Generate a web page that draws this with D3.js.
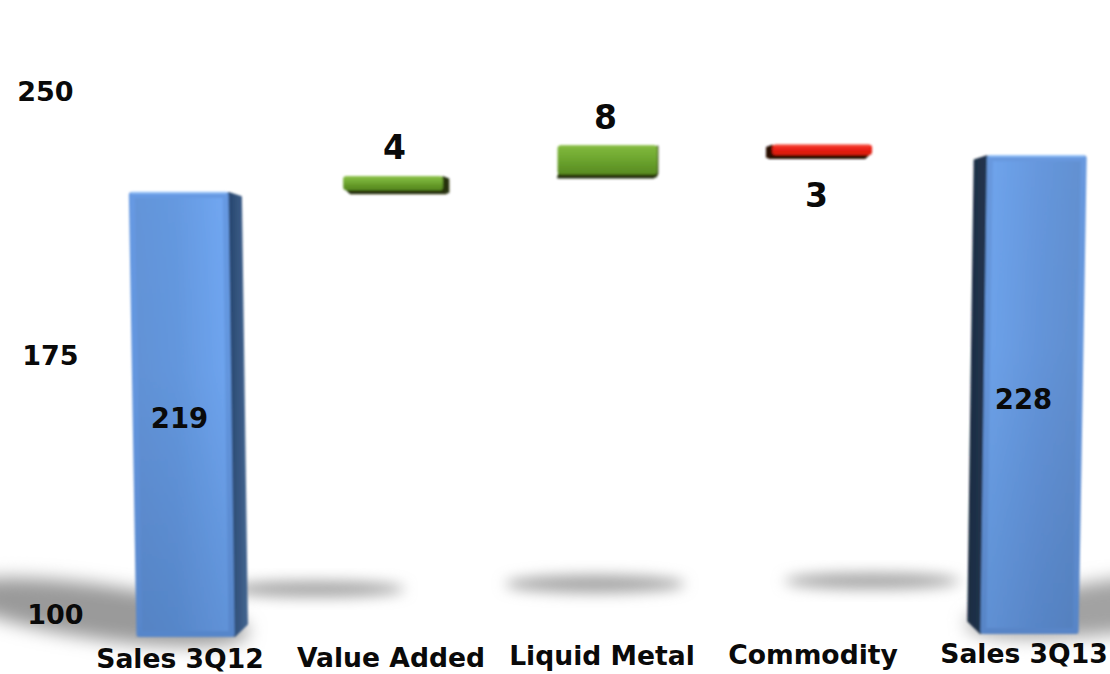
<!DOCTYPE html>
<html>
<head>
<meta charset="utf-8">
<script src="https://cdnjs.cloudflare.com/ajax/libs/d3/7.8.5/d3.min.js"></script>
<style>
html,body{margin:0;padding:0;background:#fff;overflow:hidden}
text{font-family:"DejaVu Sans",sans-serif;font-weight:700;fill:#0a0a0a}
</style>
</head>
<body>
<svg id="chart" width="1110" height="674"></svg>
<script>
// Sales bridge, 3Q12 to 3Q13
const categories = ["Sales 3Q12", "Value Added", "Liquid Metal", "Commodity", "Sales 3Q13"];
const values = [219, 4, 8, 3, 228];
const kinds = ["total", "up", "up", "down", "total"];
const axisTicks = [100, 175, 250];

const W = 1110, H = 674;
const floorY = 637, vanishX = 610, convergence = 3.6e-5, depthRatio = 0.033, corner = 3;

const svg = d3.select("#chart").attr("viewBox", [0, 0, W, H]);

const x = d3.scaleBand().domain(categories).range([80, 1135]).padding(0.535).paddingOuter(0.2675);
const barY = d3.scaleLinear().domain([100, 250]).range([floorY, floorY - 561]);
const axisY = d3.scaleLinear().domain([100, 175, 250]).range([614, 355, 91]);
const tilt = d3.scaleLinear().domain([184, 1028]).range([0, -3]);

// Camera perspective: vertical edges lean outward as they rise
const px = (xv, yv) => vanishX + (xv - vanishX) * (1 + convergence * (floorY - yv));

// Running totals give each bar its start and end value
let running = 0;
const bars = categories.map((name, i) => {
  let lo, hi;
  if (kinds[i] === "total") { lo = 100; hi = values[i]; running = values[i]; }
  else if (kinds[i] === "up") { lo = running; hi = running + values[i]; running = hi; }
  else { hi = running; lo = running - values[i]; running = lo; }
  return { name, value: values[i], kind: kinds[i], lo, hi, x0: x(name), x1: x(name) + x.bandwidth() };
});

const defs = svg.append("defs");
const blur = (id, s) => defs.append("filter").attr("id", id)
  .attr("x", "-40%").attr("y", "-80%").attr("width", "180%").attr("height", "260%")
  .append("feGaussianBlur").attr("stdDeviation", s);
blur("soft", 0.8);
blur("shadowBlur", 7);
blur("shadowBlurBig", 9);

function gradient(id, x2, y2, stops) {
  const g = defs.append("linearGradient").attr("id", id)
    .attr("x1", 0).attr("y1", 0).attr("x2", x2).attr("y2", y2);
  stops.forEach(([o, c, a]) => g.append("stop").attr("offset", o).attr("stop-color", c).attr("stop-opacity", a === undefined ? 1 : a));
}
gradient("blueLeft", 1, 0, [[0, "#6494d8"], [0.45, "#6599e0"], [1, "#72a9f4"]]);
gradient("blueRight", 1, 0, [[0, "#70a6ee"], [0.55, "#6697dd"], [1, "#6290d0"]]);
gradient("footShade", 0, 1, [[0, "#1c3a6a", 0], [0.4, "#1c3a6a", 0.03], [1, "#1c3a6a", 0.2]]);
gradient("sideLeft", 1, 0, [[0, "#27456e"], [1, "#42648f"]]);
gradient("sideRight", 1, 0, [[0, "#1d2c42"], [1, "#22354f"]]);
gradient("green", 0, 1, [[0, "#7db53b"], [0.5, "#6ca42e"], [1, "#5c8f24"]]);
gradient("red", 0, 1, [[0, "#f0261a"], [1, "#dd1a10"]]);

// Soft floor shadows cast by each bar
const shadowSpec = [
  { cx: 100, cy: 612, rx: 150, ry: 27, rot: 8, fill: "#9a9a9a", f: "shadowBlurBig" },
  { cx: 315, cy: 589, rx: 90, ry: 8, rot: 0, fill: "#a4a4a4", f: "shadowBlur" },
  { cx: 595, cy: 584, rx: 90, ry: 9, rot: 0, fill: "#a4a4a4", f: "shadowBlur" },
  { cx: 872, cy: 581, rx: 88, ry: 8, rot: 0, fill: "#a4a4a4", f: "shadowBlur" },
  { cx: 1135, cy: 604, rx: 170, ry: 27, rot: -7, fill: "#a2a2a2", f: "shadowBlurBig" }
];
svg.append("g").selectAll("ellipse").data(shadowSpec).join("ellipse")
  .attr("cx", d => d.cx).attr("cy", d => d.cy).attr("rx", d => d.rx).attr("ry", d => d.ry)
  .attr("transform", d => `rotate(${d.rot} ${d.cx} ${d.cy})`)
  .attr("fill", d => d.fill).attr("filter", d => `url(#${d.f})`);

const poly = pts => pts.map(p => p.join(",")).join(" ");

// Bars: underside and inner side first, the front face on top
const barG = svg.append("g").attr("filter", "url(#soft)");
bars.forEach(b => {
  const cx = (b.x0 + b.x1) / 2;
  const off = tilt(cx);
  const total = b.kind === "total";
  const yTop = barY(b.hi) + off;
  const yBot = barY(b.lo) + off - (total ? 0 : 1);
  const fl = px(b.x0, yTop), fr = px(b.x1, yTop), bl = px(b.x0, yBot), br = px(b.x1, yBot);
  const leftSide = cx > vanishX + 5;       // inner face shows on the side nearest the vanishing point
  const eTop = leftSide ? fl : fr, eBot = leftSide ? bl : br;
  const dTop = (vanishX - (leftSide ? b.x0 : b.x1)) * depthRatio;
  const backBotY = total ? yBot - 12 : yBot + 3;
  const backTopY = total ? yTop + 4 : yTop + 2;
  const sideColor = total ? (leftSide ? "url(#sideRight)" : "url(#sideLeft)")
    : (b.kind === "down" ? "#2a0a06" : "#26330f");

  if (!total) {
    barG.append("polygon")
      .attr("points", poly([[bl + 2, yBot - 2], [br - 2, yBot - 2], [br + dTop - 2, backBotY], [bl + dTop + 2, backBotY]]))
      .attr("fill", sideColor).attr("stroke", sideColor).attr("stroke-linejoin", "round").attr("stroke-width", 2);
  }
  barG.append("polygon")
    .attr("points", poly([[eTop, yTop + 1], [eTop + dTop, backTopY + 1], [eBot + dTop, backBotY - 1], [eBot, yBot - 1]]))
    .attr("fill", sideColor).attr("stroke", sideColor).attr("stroke-linejoin", "round").attr("stroke-width", 2);

  const fill = total ? (leftSide ? "url(#blueRight)" : "url(#blueLeft)")
    : (b.kind === "up" ? "url(#green)" : "url(#red)");
  const face = [[fl + corner, yTop + corner], [fr - corner, yTop + corner], [br - corner, yBot - corner], [bl + corner, yBot - corner]];
  barG.append("polygon")
    .attr("points", poly(face))
    .attr("fill", fill).attr("stroke", total ? (leftSide ? "#6798de" : "#6699e2") : fill)
    .attr("stroke-linejoin", "round").attr("stroke-width", corner * 2);

  // Bevel highlight along the top edge, shading toward the foot of the tall bars
  const shine = total ? "#93c0f8" : (b.kind === "up" ? "#8cc048" : "#f4493a");
  if (total) {
    barG.append("polygon").attr("points", poly([[fl, yTop], [fr, yTop], [br, yBot], [bl, yBot]]))
      .attr("fill", "url(#footShade)");
  }
  barG.append("line").attr("x1", fl + 3).attr("x2", fr - 3).attr("y1", yTop + 0.8).attr("y2", yTop + 0.8)
    .attr("stroke", shine).attr("stroke-width", 2).attr("stroke-linecap", "round");
});

// Value axis: labels only, leaning with the same perspective
const axisG = svg.append("g").call(
  d3.axisLeft(axisY).tickValues(axisTicks).tickSize(0).tickPadding(0).tickFormat(d3.format("d"))
);
axisG.select(".domain").remove();
axisG.selectAll(".tick").attr("transform", d => `translate(${px(84, axisY(d))},${axisY(d)})`);
axisG.selectAll("text").attr("font-size", 27).style("font-family", '"DejaVu Sans",sans-serif')
  .style("font-weight", 700).attr("fill", "#0a0a0a").attr("dy", "0.36em");

// Category labels
svg.append("g").selectAll("text").data(bars).join("text")
  .attr("x", d => (d.x0 + d.x1) / 2 - 5.5)
  .attr("y", d => 668 + tilt((d.x0 + d.x1) / 2) * 1.8)
  .attr("text-anchor", "middle").attr("font-size", 26.6)
  .text(d => d.name);

// Value labels: inside the tall bars, above gains, below the loss
const labelY = b => {
  const off = tilt((b.x0 + b.x1) / 2);
  if (b.kind === "total") return (barY(b.hi) + barY(b.lo)) / 2 + off + 14;
  if (b.kind === "up") return barY(b.hi) + off - 17;
  return barY(b.lo) + off + 51;
};
svg.append("g").selectAll("text").data(bars).join("text")
  .attr("x", d => (d.x0 + d.x1) / 2 + (d.kind === "total" ? -6 : -2))
  .attr("y", labelY)
  .attr("text-anchor", "middle")
  .attr("font-size", d => d.kind === "total" ? 27.5 : 33)
  .text(d => d.value);
</script>
</body>
</html>
